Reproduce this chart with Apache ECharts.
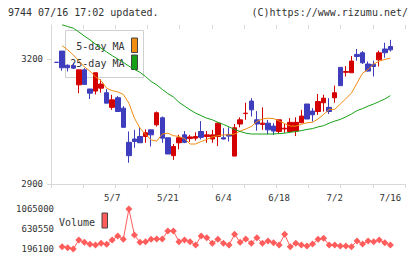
<!DOCTYPE html>
<html>
<head>
<meta charset="utf-8">
<script src="https://cdn.jsdelivr.net/npm/echarts@6/dist/echarts.min.js"></script>
<style>
  html, body { margin: 0; padding: 0; background: #fff; }
  #chart { width: 420px; height: 259px; }
</style>
</head>
<body>
<div id="chart"></div>
<script>
// trading days (weekday calendar), one per candle
var dates = [
  "4/23", "4/24", "4/25", "4/26", "4/29", "4/30",
  "5/1", "5/2", "5/3", "5/6", "5/7", "5/8", "5/9", "5/10", "5/13", "5/14", "5/15", "5/16", "5/17",
  "5/20", "5/21", "5/22", "5/23", "5/24", "5/27", "5/28", "5/29", "5/30", "5/31",
  "6/3", "6/4", "6/5", "6/6", "6/7", "6/10", "6/11", "6/12", "6/13", "6/14",
  "6/17", "6/18", "6/19", "6/20", "6/21", "6/24", "6/25", "6/26", "6/27", "6/28",
  "7/1", "7/2", "7/3", "7/4", "7/5", "7/8", "7/9", "7/10", "7/11", "7/12", "7/15", "7/16"
];
var labelDates = ["5/7", "5/21", "6/4", "6/18", "7/2", "7/16"];

var opens = [3192, 3219, 3185, 3184, 3138, 3174, 3128, 3123, 3130, 3119,
  3084, 3107, 3082, 3000, 3008, 3014, 3014, 3030, 3042, 3059,
  3011, 2968, 2999, 3018, 3009, 3010, 3026, 3014, 3008, 3014,
  3011, 3019, 2967, 3044, 3069, 3099, 3054, 3043, 3046, 3039,
  3026, 3032, 3026, 3027, 3047, 3092, 3075, 3074, 3095, 3084,
  3107, 3180, 3168, 3167, 3211, 3215, 3188, 3187, 3198, 3224, 3230];
var closes = [3192, 3179, 3179, 3178, 3174, 3139, 3118, 3167, 3140, 3094,
  3102, 3074, 3036, 2968, 3002, 2999, 3023, 3018, 3071, 3010,
  2972, 2990, 3011, 3000, 3013, 3014, 3012, 3018, 3018, 3046,
  3008, 3015, 3035, 3054, 3070, 3078, 3044, 3046, 3030, 3027,
  3054, 3034, 3048, 3048, 3063, 3056, 3066, 3098, 3106, 3074,
  3119, 3136, 3170, 3195, 3206, 3191, 3171, 3182, 3215, 3215, 3222];
var lows = [3192, 3172, 3170, 3176, 3118, 3139, 3104, 3115, 3119, 3094,
  3078, 3073, 3036, 2951, 2987, 2999, 2999, 2990, 3038, 2999,
  2972, 2958, 2983, 2998, 3001, 3004, 3007, 2999, 2999, 2991,
  3007, 3002, 2967, 3036, 3054, 3062, 3028, 3030, 3019, 3018,
  3022, 3023, 3026, 3015, 3046, 3056, 3050, 3066, 3074, 3068,
  3095, 3136, 3158, 3167, 3196, 3188, 3170, 3158, 3182, 3203, 3218];
var highs = [3192, 3219, 3187, 3191, 3174, 3178, 3128, 3167, 3151, 3128,
  3114, 3111, 3087, 3026, 3030, 3036, 3031, 3030, 3074, 3062,
  3011, 2996, 3018, 3027, 3018, 3024, 3051, 3027, 3030, 3047,
  3034, 3036, 3044, 3060, 3095, 3106, 3075, 3084, 3054, 3046,
  3054, 3044, 3058, 3060, 3078, 3092, 3082, 3116, 3114, 3106,
  3136, 3180, 3183, 3207, 3224, 3219, 3194, 3196, 3220, 3239, 3246];

var ma5 = [null, 3232, 3222, 3210, 3196, 3181, 3171, 3157, 3148, 3130,
  3124, 3121, 3115, 3094, 3058, 3034, 3019, 3006, 3003, 3020,
  3022, 3016, 3014, 3009, 2996, 2996, 3002, 3007, 3013, 3016,
  3018, 3018, 3020, 3027, 3032, 3038, 3050, 3056, 3058, 3057,
  3051, 3045, 3039, 3039, 3043, 3047, 3048, 3056, 3067, 3079,
  3079, 3092, 3105, 3118, 3142, 3166, 3175, 3188, 3195, 3199, 3202];
var ma25 = [null, 3282, 3278, 3274, 3265, 3255, 3246, 3236, 3226, 3217,
  3208, 3200, 3192, 3183, 3175, 3168, 3158, 3146, 3138, 3127,
  3117, 3109, 3096, 3087, 3078, 3070, 3064, 3058, 3054, 3048,
  3043, 3037, 3031, 3026, 3022, 3020, 3020, 3020, 3020, 3020,
  3021, 3022, 3024, 3026, 3028, 3031, 3033, 3037, 3040, 3046,
  3051, 3055, 3061, 3068, 3076, 3081, 3087, 3092, 3098, 3104, 3112];

var volumes = [null, 246000, 224000, 196100, 392000, 342000, 298000, 283000, 320000, 298000,
  392000, 479000, 407000, 1065000, 500000, 342000, 355000, 407000, 413000, 413000,
  587000, 587000, 355000, 392000, 355000, 283000, 479000, 442000, 320000, 407000,
  320000, 283000, 515000, 342000, 413000, 320000, 442000, 320000, 370000, 333000,
  283000, 515000, 246000, 320000, 283000, 261000, 305000, 407000, 428000, 283000,
  283000, 261000, 261000, 246000, 370000, 305000, 370000, 355000, 392000, 333000, 283000];

var priceTicks = [2900, 3200];
var volumeTicks = [196100, 630550, 1065000];

// one empty slot before the first candle, two after the last
var cats = [""].concat(dates, ["", ""]);
function pad(arr, empty) {
  return [empty].concat(arr, [empty, empty]);
}

var candles = [];
for (var i = 0; i < dates.length; i++) {
  candles.push([opens[i], closes[i], lows[i], highs[i]]);
}

var monoFont = "DejaVu Sans Mono";
var plain = function (v) { return String(v); };
var chart = echarts.init(document.getElementById("chart"), null, { renderer: "svg" });

chart.setOption({
  backgroundColor: "#fff",
  animation: false,
  grid: [
    { left: 51, top: 25, width: 354, height: 159 },   // frame with ticks
    { left: 51, top: 25, width: 350.5, height: 159 }, // candles
    { left: 51, top: 209, width: 350.5, height: 40 }  // volume
  ],
  xAxis: [
    {
      gridIndex: 0, type: "value", min: 0, max: 11, interval: 1,
      axisLine: { lineStyle: { color: "#d8d8d8" } },
      axisTick: { length: 4, lineStyle: { color: "#d8d8d8" } },
      axisLabel: { show: false },
      splitLine: { show: false }
    },
    {
      gridIndex: 0, type: "value", min: 0, max: 11, interval: 1,
      axisLine: { show: false },
      axisTick: { inside: true, length: 4, lineStyle: { color: "#d8d8d8" } },
      axisLabel: { show: false },
      splitLine: { show: false }
    },
    {
      gridIndex: 1, type: "category", data: cats, boundaryGap: false,
      axisLine: { show: false },
      axisTick: { show: false },
      axisLabel: {
        interval: 0,
        margin: 9,
        color: "#333",
        fontFamily: monoFont,
        fontSize: 9,
        formatter: function (v) {
          return labelDates.indexOf(v) >= 0 ? v : "";
        }
      }
    },
    {
      gridIndex: 2, type: "category", data: cats, boundaryGap: false, show: false
    }
  ],
  yAxis: [
    {
      gridIndex: 0, type: "value", min: 2900, max: 3281.6,
      axisLine: { show: true, lineStyle: { color: "#d8d8d8" } },
      axisTick: { show: true, length: 4, customValues: priceTicks, lineStyle: { color: "#d8d8d8" } },
      axisLabel: { customValues: priceTicks, formatter: plain, margin: 8, color: "#333", fontFamily: monoFont, fontSize: 9 },
      splitLine: { show: false }
    },
    {
      gridIndex: 1, type: "value", min: 2900, max: 3281.6, show: false
    },
    {
      gridIndex: 2, type: "value", min: 196100, max: 1065000,
      axisLine: { show: false },
      axisTick: { show: false },
      axisLabel: { customValues: volumeTicks, formatter: plain, margin: -3, color: "#333", fontFamily: monoFont, fontSize: 9 },
      splitLine: { show: false }
    }
  ],
  series: [
    {
      type: "candlestick",
      xAxisIndex: 2, yAxisIndex: 1,
      data: pad(candles, ["-", "-", "-", "-"]),
      barWidth: 5,
      itemStyle: {
        color: "#d40000", borderColor: "#d40000",
        color0: "#3d3dbd", borderColor0: "#3d3dbd",
        borderWidth: 1
      }
    },
    {
      name: "5-day MA", type: "line",
      xAxisIndex: 2, yAxisIndex: 1,
      data: pad(ma5, null),
      symbol: "none", clip: false,
      lineStyle: { color: "#f08c10", width: 1 }
    },
    {
      name: "25-day MA", type: "line",
      xAxisIndex: 2, yAxisIndex: 1,
      data: pad(ma25, null),
      symbol: "none", clip: false,
      lineStyle: { color: "#16a016", width: 1 }
    },
    {
      name: "Volume", type: "line",
      xAxisIndex: 3, yAxisIndex: 2,
      data: pad(volumes, null),
      symbol: "diamond", symbolSize: 7, showAllSymbol: true, clip: false,
      lineStyle: { color: "#ff5c5c", width: 1 },
      itemStyle: { color: "#ff5c5c" }
    }
  ],
  graphic: [
    { type: "text", left: 8, top: 7, style: { text: "9744 07/16 17:02 updated.", font: "10px " + monoFont, fill: "#333" } },
    { type: "text", right: 12, top: 7, style: { text: "(C)https://www.rizumu.net/", font: "10px " + monoFont, fill: "#333" } },
    // MA legend box
    {
      type: "group", left: 65, top: 30, z: 100,
      children: [
        { type: "rect", shape: { x: 0, y: 0, width: 78, height: 47 }, style: { fill: "#fff", stroke: "#d0d0d0", lineWidth: 1 } },
        { type: "text", x: 59, y: 16, style: { text: "5-day MA", font: "10px " + monoFont, fill: "#333", align: "right", verticalAlign: "middle" } },
        { type: "text", x: 59, y: 33, style: { text: "25-day MA", font: "10px " + monoFont, fill: "#333", align: "right", verticalAlign: "middle" } },
        { type: "rect", shape: { x: 66, y: 7.5, width: 6, height: 14.5 }, style: { fill: "#f08c10", stroke: "#444", lineWidth: 1 } },
        { type: "rect", shape: { x: 66, y: 24.5, width: 6, height: 14.5 }, style: { fill: "#16a016", stroke: "#444", lineWidth: 1 } }
      ]
    },
    // volume legend
    { type: "text", left: 59, top: 217, z: 100, style: { text: "Volume", font: "10px " + monoFont, fill: "#333" } },
    { type: "rect", z: 100, shape: { x: 102, y: 213, width: 5.5, height: 15 }, style: { fill: "#ff5c5c", stroke: "#444", lineWidth: 1 } }
  ]
});
</script>
</body>
</html>
